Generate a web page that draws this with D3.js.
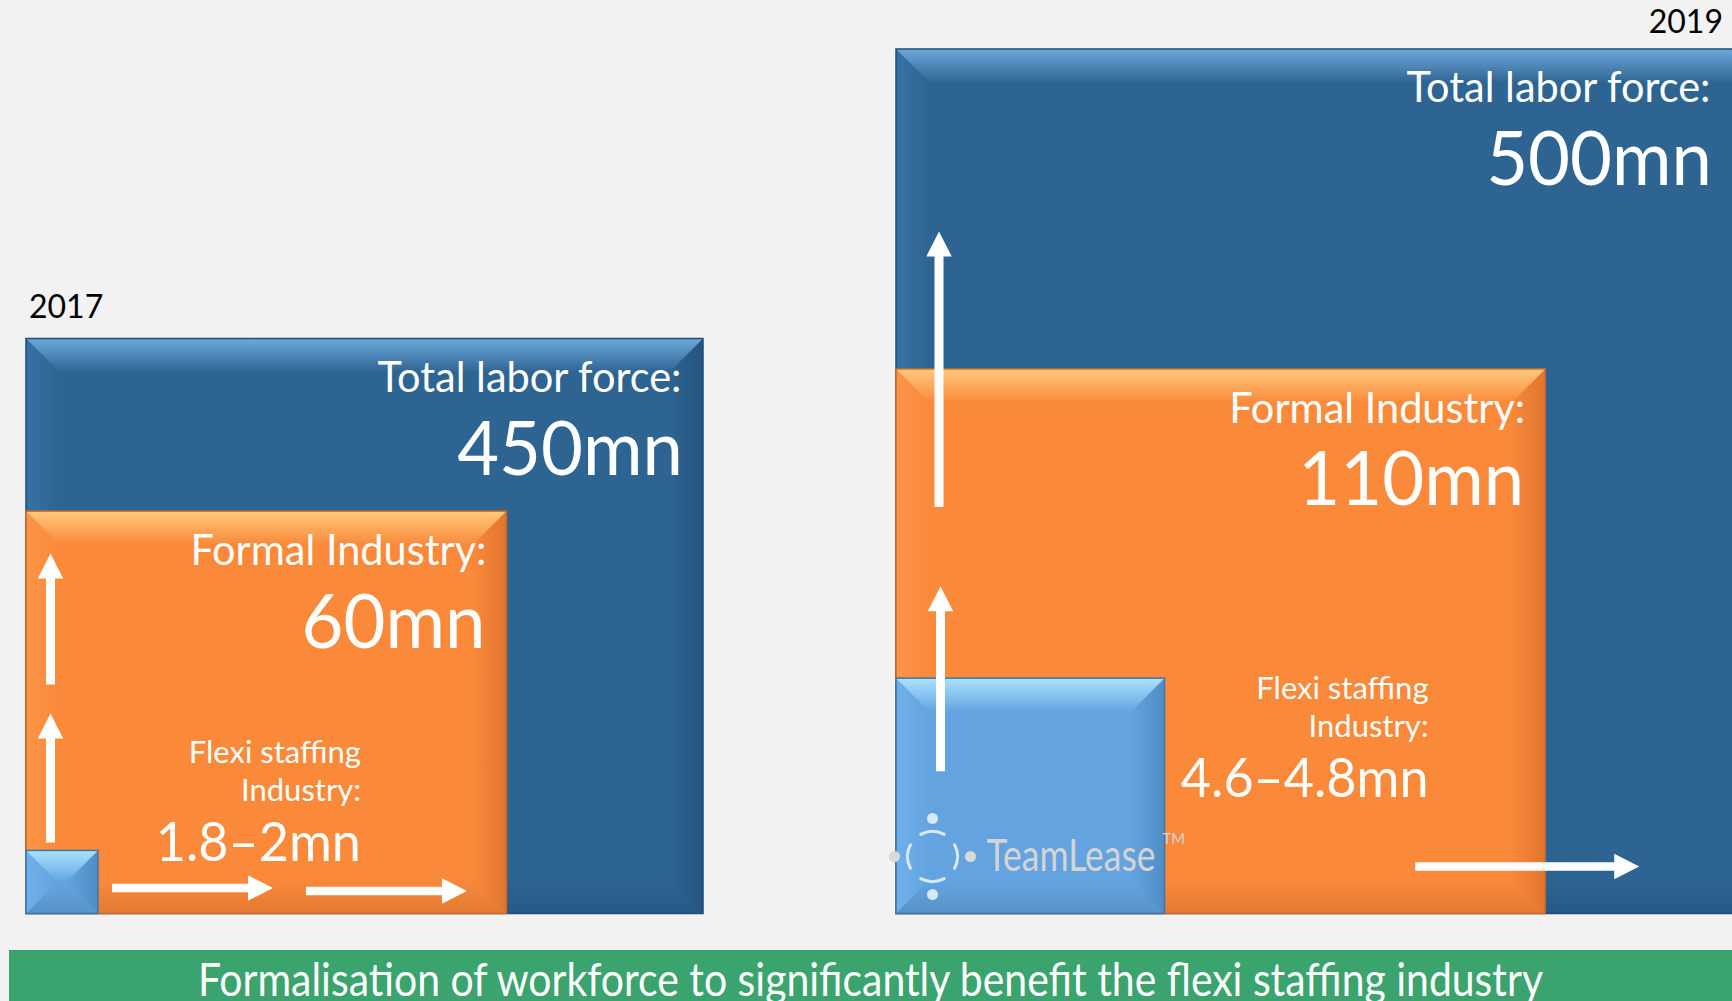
<!DOCTYPE html>
<meta charset="utf-8">
<style>
  body { margin: 0; background: #f2f2f2; }
  svg { display: block; font-family: Lato, "Open Sans", sans-serif; }
</style>
<body>
<div id="chart"></div>
<script src="https://d3js.org/d3.v7.min.js"></script>
<script>
  // values in millions
  var years = ["2017", "2019"];
  var totalLabor = [450, 500];
  var formalIndustry = [60, 110];
  var flexiLow = [1.8, 4.6];
  var flexiHigh = [2, 4.8];

  var totalLabel = "Total labor force:";
  var formalLabel = "Formal Industry:";
  var flexiLabel = ["Flexi staffing", "Industry:"];
  var bannerText = "Formalisation of workforce to significantly benefit the flexi staffing industry";

  var width = 1732, height = 1001;

  // the slide is not drawn to scale: each year has its own compressing
  // pow curve (fitted by eye), nested boxes share the bottom-left corner
  var panels = [
    { left: 26, bottom: 913.5,
      x: { exponent: -0.07, floor: 1.118, size: 677 },
      y: { exponent: -0.05, floor: 1.063, size: 575 },
      yearX: 29, yearY: 318, yearAnchor: "start", flexiY: 762.5, flexiDx: 263 },
    { left: 896, bottom: 913.5,
      x: { exponent: 0.28, floor: 0, size: 992 },
      y: { exponent: 0.345, floor: -0.622, size: 864.5 },
      yearX: 1723, yearY: 33, yearAnchor: "end", flexiY: 699, flexiDx: 264 }
  ];

  var boxStyle = {
    total:  { base: "#2e6491", top: "#6ea8dc", left: "#3772a5", right: "#24547f", bottom: "#275985", stroke: "#1f4d78" },
    formal: { base: "#fa893a", top: "#ffc97c", left: "#fc9447", right: "#df762e", bottom: "#e27a33", stroke: "#c9692a" },
    flexi:  { base: "#63a4e0", top: "#a9e3ff", left: "#70b0ea", right: "#4f8cc4", bottom: "#5893ca", stroke: "#3b77ae" }
  };

  var squeeze = 0.965; // slide text is a touch narrower than Lato

  var svg = d3.select("#chart").append("svg")
    .attr("width", width)
    .attr("height", height);

  svg.append("rect")
    .attr("width", width)
    .attr("height", height)
    .attr("fill", "#f2f2f2");

  var defs = svg.append("defs");
  var gradId = 0;

  function gradient(dir, edge, base) {
    var id = "g" + (gradId++);
    var lg = defs.append("linearGradient").attr("id", id)
      .attr("x1", dir[0]).attr("y1", dir[1]).attr("x2", dir[2]).attr("y2", dir[3]);
    lg.append("stop").attr("offset", 0).attr("stop-color", edge);
    lg.append("stop").attr("offset", 1).attr("stop-color", base);
    return "url(#" + id + ")";
  }

  // rectangle with an office style bevel round the edges
  function drawBox(g, b, st) {
    var bv = Math.min(34, b.w / 2, b.h / 2);
    var x0 = b.x, y0 = b.y, x1 = b.x + b.w, y1 = b.y + b.h;
    g.append("rect")
      .attr("x", x0).attr("y", y0)
      .attr("width", b.w).attr("height", b.h)
      .attr("fill", st.base);

    var sides = [
      { pts: [[x0, y0], [x0 + bv, y0 + bv], [x0 + bv, y1 - bv], [x0, y1]], dir: [0, 0, 1, 0], c: st.left },
      { pts: [[x1, y0], [x1, y1], [x1 - bv, y1 - bv], [x1 - bv, y0 + bv]], dir: [1, 0, 0, 0], c: st.right },
      { pts: [[x0, y1], [x0 + bv, y1 - bv], [x1 - bv, y1 - bv], [x1, y1]], dir: [0, 1, 0, 0], c: st.bottom },
      { pts: [[x0, y0], [x1, y0], [x1 - bv, y0 + bv], [x0 + bv, y0 + bv]], dir: [0, 0, 0, 1], c: st.top }
    ];
    sides.forEach(function(s) {
      g.append("polygon")
        .attr("points", s.pts.map(function(p) { return p.join(","); }).join(" "))
        .attr("fill", gradient(s.dir, s.c, st.base));
    });

    g.append("rect")
      .attr("x", x0).attr("y", y0)
      .attr("width", b.w).attr("height", b.h)
      .attr("fill", "none")
      .attr("stroke", st.stroke)
      .attr("stroke-width", 1.5);
  }

  function text(g, x, y, str, size, anchor, fill, squash) {
    var t = g.append("text")
      .attr("x", x).attr("y", y)
      .attr("text-anchor", anchor)
      .attr("font-size", size)
      .attr("fill", fill)
      .text(str);
    if (squash) {
      t.attr("textLength", t.node().getComputedTextLength() * squeeze)
        .attr("lengthAdjust", "spacingAndGlyphs");
    }
    return t;
  }

  // white block arrow from (xa,ya) to tip (xb,yb)
  function arrow(g, xa, ya, xb, yb, shaft) {
    var len = Math.hypot(xb - xa, yb - ya), head = 25, half = 12.7, s = shaft / 2;
    var ux = (xb - xa) / len, uy = (yb - ya) / len, nx = -uy, ny = ux;
    var hx = xb - ux * head, hy = yb - uy * head;
    var pts = [
      [xa + nx * s, ya + ny * s], [hx + nx * s, hy + ny * s], [hx + nx * half, hy + ny * half],
      [xb, yb],
      [hx - nx * half, hy - ny * half], [hx - nx * s, hy - ny * s], [xa - nx * s, ya - ny * s]
    ];
    g.append("polygon")
      .attr("points", pts.map(function(p) { return p.join(","); }).join(" "))
      .attr("fill", "#fff");
  }

  var fmt = function(v) { return v + "mn"; };

  function sizeScale(s, max) {
    return d3.scalePow().exponent(s.exponent).domain([s.floor, max]).range([0, s.size]).clamp(true);
  }

  panels.forEach(function(p, i) {
    var g = svg.append("g");
    var sx = sizeScale(p.x, totalLabor[i]);
    var sy = sizeScale(p.y, totalLabor[i]);

    function box(v) {
      return { x: p.left, y: p.bottom - sy(v), w: sx(v), h: sy(v) };
    }
    var tot = box(totalLabor[i]);
    var form = box(formalIndustry[i]);
    var flex = box((flexiLow[i] + flexiHigh[i]) / 2);

    drawBox(g, tot, boxStyle.total);
    drawBox(g, form, boxStyle.formal);
    drawBox(g, flex, boxStyle.flexi);

    text(g, p.yearX, p.yearY, years[i], 32, p.yearAnchor, "#000", false);

    var totRight = Math.min(tot.x + tot.w, width);
    text(g, totRight - 21.5, tot.y + 53, totalLabel, 43, "end", "#fff", true);
    text(g, totRight - 20, tot.y + 136, fmt(totalLabor[i]), 75, "end", "#fff", true);

    var formRight = form.x + form.w;
    text(g, formRight - 20, form.y + 54, formalLabel, 43, "end", "#fff", true);
    text(g, formRight - 21, form.y + 136.5, fmt(formalIndustry[i]), 75, "end", "#fff", true);

    var fx = flex.x + flex.w + p.flexiDx;
    text(g, fx, p.flexiY, flexiLabel[0], 31, "end", "#fff", false);
    text(g, fx, p.flexiY + 38, flexiLabel[1], 31, "end", "#fff", false);
    text(g, fx, p.flexiY + 98, flexiLow[i] + "\u2013" + flexiHigh[i] + "mn", 54, "end", "#fff", true);

    // growth arrows
    var ax = p.left + (i === 0 ? 24.5 : 43);
    if (i === 0) {
      arrow(g, ax, flex.y - 8, ax, flex.y - 137, 9);
      arrow(g, ax, flex.y - 166, ax, flex.y - 297, 9);
      arrow(g, flex.x + flex.w + 14, p.bottom - 25.5, flex.x + flex.w + 175, p.bottom - 25.5, 8.5);
      arrow(g, flex.x + flex.w + 208, p.bottom - 22.5, flex.x + flex.w + 369, p.bottom - 22.5, 8.5);
    } else {
      arrow(g, ax + 1.5, flex.y + 93, ax + 1.5, flex.y - 92, 9);
      arrow(g, ax, form.y + 138, ax, form.y - 137.5, 9);
      arrow(g, formRight - 130, p.bottom - 47, formRight + 94, p.bottom - 47, 8.5);

      // TeamLease watermark in the flexi box
      var lg = g.append("g").attr("transform", "translate(" + (p.left + 36.5) + "," + (p.bottom - 57) + ")");
      var arc = d3.arc().innerRadius(23.5).outerRadius(26.5).cornerRadius(1.5);
      [0, 90, 180, 270].forEach(function(a) {
        var r = a * Math.PI / 180;
        lg.append("path")
          .attr("d", arc({ startAngle: r - 0.55, endAngle: r + 0.55 }))
          .attr("fill", "#d8e8f5");
        lg.append("circle")
          .attr("cx", 38 * Math.sin(r)).attr("cy", -38 * Math.cos(r))
          .attr("r", 5.5)
          .attr("fill", a % 180 === 0 ? "#d6e9f8" : "#d9d9d9");
      });
      var brand = lg.append("text")
        .attr("font-size", 44)
        .attr("fill", "#d4d4d4")
        .text("TeamLease");
      var bw = brand.node().getComputedTextLength();
      brand.attr("transform", "translate(54,14) scale(" + (169 / bw) + ",1)");
      lg.append("text")
        .attr("x", 230).attr("y", -13)
        .attr("font-size", 15)
        .attr("fill", "#d4d4d4")
        .text("TM");
    }
  });

  // green takeaway banner
  svg.append("rect")
    .attr("x", 9).attr("y", 950)
    .attr("width", width - 9).attr("height", 60)
    .attr("fill", "#3aa36e");
  svg.append("text")
    .attr("x", (9 + width) / 2).attr("y", 996)
    .attr("text-anchor", "middle")
    .attr("font-size", 46)
    .attr("textLength", 1345)
    .attr("lengthAdjust", "spacingAndGlyphs")
    .attr("fill", "#fff")
    .text(bannerText);
</script>
</body>
